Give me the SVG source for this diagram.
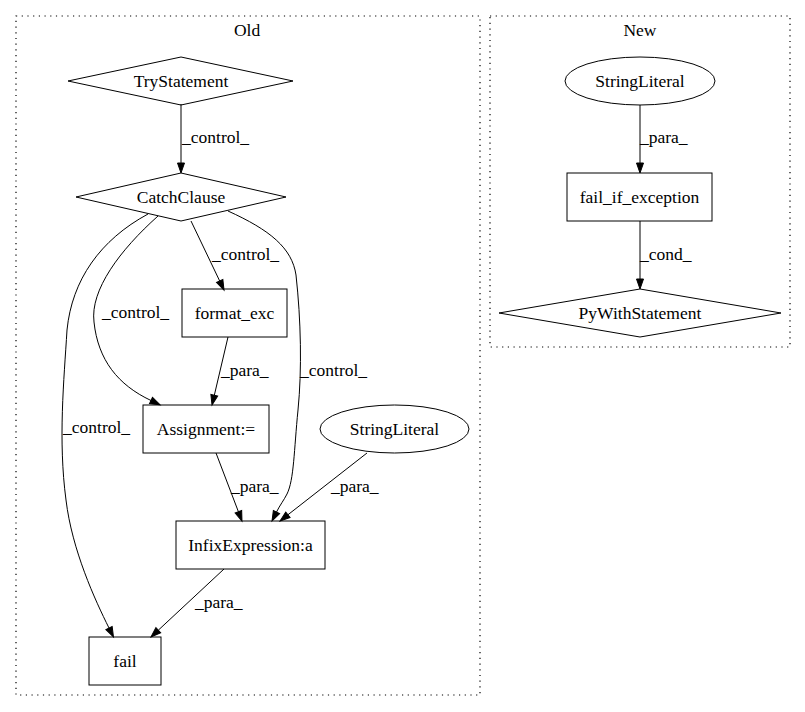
<svg xmlns="http://www.w3.org/2000/svg" width="805" height="712" viewBox="0 0 805 712">
<style>
text{font-family:"Liberation Serif","Times New Roman",serif;font-size:17.5px;fill:#000}
.c{text-anchor:middle}
.n{fill:none;stroke:#000;stroke-width:1}
.cl{fill:none;stroke:#000;stroke-width:1.2;stroke-dasharray:1.2,4.5}
.e{fill:none;stroke:#000;stroke-width:1}
</style>
<defs>
<marker id="ah" markerUnits="userSpaceOnUse" markerWidth="12" markerHeight="10" refX="0" refY="0" viewBox="0 -5 12 10" orient="auto" overflow="visible">
<path d="M0,-3.5 L10,0 L0,3.5 z" fill="#000" stroke="#000" stroke-width="1"/>
</marker>
</defs>
<rect width="805" height="712" fill="#fff"/>
<g id="cluster_old">
<rect class="cl" x="16" y="16" width="464" height="679"/>
<text class="c" x="247" y="36">Old</text>
</g>
<g id="cluster_new">
<rect class="cl" x="490" y="16" width="300" height="331"/>
<text class="c" x="640" y="36">New</text>
</g>
<g id="edges">
<path class="e" marker-end="url(#ah)" d="M181,104 L181,163"/>
<path class="e" marker-end="url(#ah)" d="M191,221 L219.7,281"/>
<path class="e" marker-end="url(#ah)" d="M228,337 L214.3,395.3"/>
<path class="e" marker-end="url(#ah)" d="M216,453 L238.4,511.7"/>
<path class="e" marker-end="url(#ah)" d="M367,453 L287.9,514.8"/>
<path class="e" marker-end="url(#ah)" d="M224,569 L158.3,630.2"/>
<path class="e" marker-end="url(#ah)" d="M158,216 C120,250 90,290 94,322 C98,360 118,385 151,400.5"/>
<path class="e" marker-end="url(#ah)" d="M148,214 C100,240 72,280 67,330 C64,380 58,440 66,500 C72,550 95,600 109,628"/>
<path class="e" marker-end="url(#ah)" d="M228,211 C270,230 292,248 296,275 C301,320 302,370 298,410 C294,450 294,480 287,494 C284,500 280,505 276.5,512"/>
<path class="e" marker-end="url(#ah)" d="M640,105 L640,163"/>
<path class="e" marker-end="url(#ah)" d="M640,221 L640,279"/>
<text x="182" y="143">_control_</text>
<text x="212" y="260">_control_</text>
<text x="102" y="318">_control_</text>
<text x="221" y="376">_para_</text>
<text x="300" y="376">_control_</text>
<text x="63" y="433">_control_</text>
<text x="231" y="492">_para_</text>
<text x="331" y="492">_para_</text>
<text x="195" y="608">_para_</text>
<text x="640" y="143">_para_</text>
<text x="640" y="260">_cond_</text>
</g>
<g id="TryStatement">
<polygon class="n" points="181,57 293,81 181,105 68,81"/>
<text class="c" x="181" y="87">TryStatement</text>
</g>
<g id="CatchClause">
<polygon class="n" points="181,173 286,197 181,221 76,197"/>
<text class="c" x="181" y="203">CatchClause</text>
</g>
<g id="format_exc">
<rect class="n" x="182" y="289" width="105" height="48"/>
<text class="c" x="234.5" y="319">format_exc</text>
</g>
<g id="Assignment">
<rect class="n" x="143" y="405" width="126" height="48"/>
<text class="c" x="206" y="435">Assignment:=</text>
</g>
<g id="StringLiteral_old">
<ellipse class="n" cx="394.5" cy="429" rx="74.5" ry="24"/>
<text class="c" x="394.5" y="435">StringLiteral</text>
</g>
<g id="InfixExpression">
<rect class="n" x="176" y="521" width="149" height="48"/>
<text class="c" x="250.5" y="551">InfixExpression:a</text>
</g>
<g id="fail">
<rect class="n" x="89" y="637" width="72" height="48"/>
<text class="c" x="125" y="667">fail</text>
</g>
<g id="StringLiteral_new">
<ellipse class="n" cx="640" cy="81" rx="75" ry="24"/>
<text class="c" x="640" y="87">StringLiteral</text>
</g>
<g id="fail_if_exception">
<rect class="n" x="567" y="173" width="145" height="48"/>
<text class="c" x="639.5" y="203">fail_if_exception</text>
</g>
<g id="PyWithStatement">
<polygon class="n" points="640,289 781,313 640,337 499,313"/>
<text class="c" x="640" y="319">PyWithStatement</text>
</g>
</svg>
